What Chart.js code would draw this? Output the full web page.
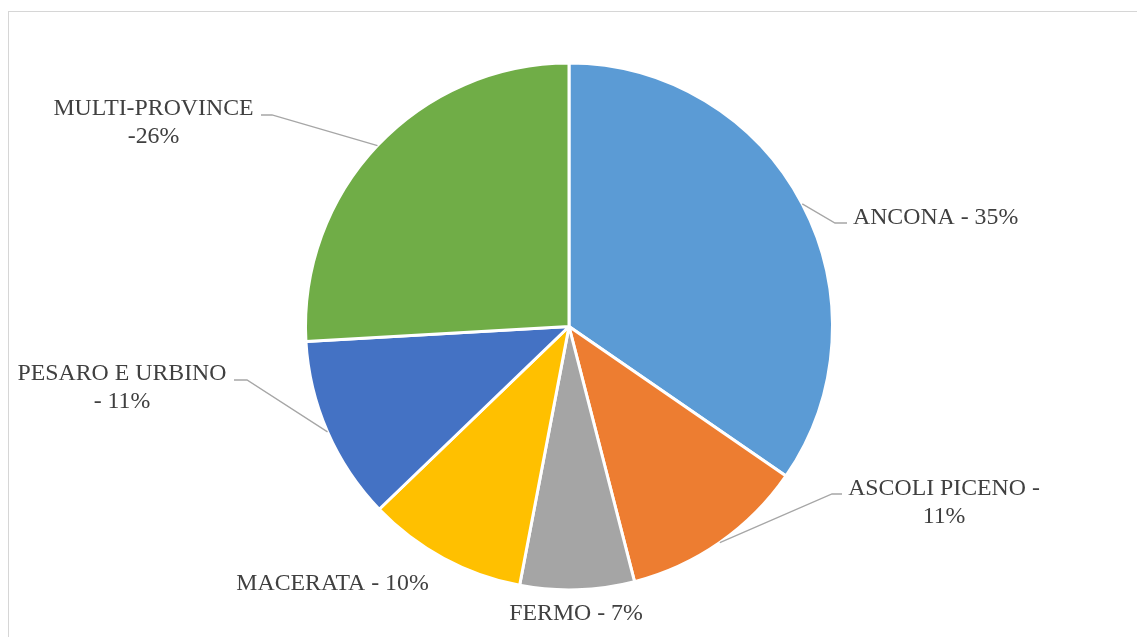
<!DOCTYPE html>
<html>
<head>
<meta charset="utf-8">
<script src="https://cdn.jsdelivr.net/npm/chart.js@4/dist/chart.umd.min.js"></script>
<style>
  html, body { margin: 0; padding: 0; background: #ffffff; overflow: hidden; }
  #wrap { position: relative; width: 1137px; height: 637px; }
  #frame { position: absolute; left: 8px; top: 11px; width: 1200px; height: 700px;
           border-top: 1px solid #D6D6D6; border-left: 1px solid #D6D6D6; box-sizing: border-box; }
  canvas { position: absolute; left: 0; top: 0; }
</style>
</head>
<body>
<div id="wrap">
  <div id="frame"></div>
  <canvas id="c" width="1137" height="637"></canvas>
</div>
<script>
// ---- Data ----
const categories = ['ANCONA', 'ASCOLI PICENO', 'FERMO', 'MACERATA', 'PESARO E URBINO', 'MULTI-PROVINCE'];
const shares = [34.6, 11.4, 7.0, 9.8, 11.3, 25.9];
const sliceLabelLines = [
  ['ANCONA - 35%'],
  ['ASCOLI PICENO -', '11%'],
  ['FERMO - 7%'],
  ['MACERATA - 10%'],
  ['PESARO E URBINO', '- 11%'],
  ['MULTI-PROVINCE', '-26%']
];
const sliceColors = ['#5B9BD5', '#ED7D31', '#A5A5A5', '#FFC000', '#4472C4', '#70AD47'];

// ---- Label layout (offsets from pie centre, px) ----
const labelLayout = [
  { elbow: [266, -103.5], end: [278, -103.5], x: 284, y: [-102.5], align: 'left' },
  { elbow: [263, 167.5], end: [273, 167.5], x: 375, y: [168.5, 196], align: 'center' },
  { x: 7, y: [293.5], align: 'center' },
  { x: -236.5, y: [263.5], align: 'center' },
  { elbow: [-322, 53.5], end: [-335, 53.5], x: -447, y: [53.5, 81.5], align: 'center' },
  { elbow: [-297, -211.5], end: [-308, -211.5], x: -415.5, y: [-211.5, -183.5], align: 'center' }
];

const outsideLabels = {
  id: 'outsideLabels',
  afterDatasetsDraw(chart) {
    const ctx = chart.ctx;
    const meta = chart.getDatasetMeta(0);
    ctx.save();
    meta.data.forEach((arc, i) => {
      const p = arc.getProps(['x', 'y', 'startAngle', 'endAngle', 'outerRadius'], true);
      const cx = p.x, cy = p.y;
      const mid = (p.startAngle + p.endAngle) / 2;
      const L = labelLayout[i];
      if (L.elbow) {
        const sx = cx + Math.cos(mid) * p.outerRadius;
        const sy = cy + Math.sin(mid) * p.outerRadius;
        ctx.beginPath();
        ctx.strokeStyle = '#A6A6A6';
        ctx.lineWidth = 1.3;
        ctx.moveTo(sx, sy);
        ctx.lineTo(cx + L.elbow[0], cy + L.elbow[1]);
        ctx.lineTo(cx + L.end[0], cy + L.end[1]);
        ctx.stroke();
      }
      ctx.fillStyle = '#404040';
      ctx.font = '23.8px "Liberation Serif", "Times New Roman", serif';
      ctx.textAlign = L.align;
      ctx.textBaseline = 'alphabetic';
      sliceLabelLines[i].forEach((line, k) => {
        ctx.fillText(line, cx + L.x, cy + L.y[k]);
      });
    });
    ctx.restore();
  }
};

new Chart(document.getElementById('c'), {
  type: 'pie',
  data: {
    labels: categories,
    datasets: [{
      data: shares,
      backgroundColor: sliceColors,
      borderColor: '#FFFFFF',
      borderWidth: 3,
      radius: 263.5
    }]
  },
  options: {
    responsive: false,
    animation: false,
    layout: { padding: { left: 1, right: 0, top: 16, bottom: 0 } },
    plugins: {
      legend: { display: false },
      tooltip: { enabled: false }
    }
  },
  plugins: [outsideLabels]
});
</script>
</body>
</html>
